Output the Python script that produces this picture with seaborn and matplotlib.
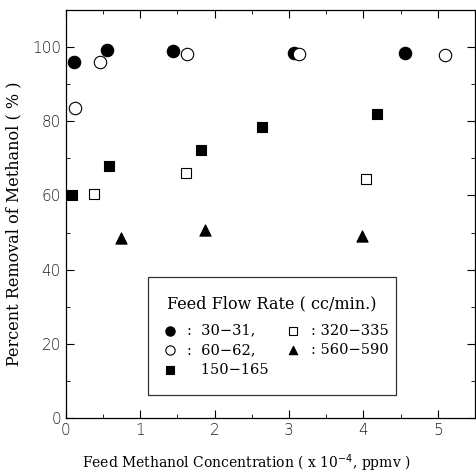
import numpy as np
import pandas as pd
import seaborn as sns
import matplotlib.pyplot as plt
from matplotlib.ticker import MultipleLocator
from matplotlib.offsetbox import DrawingArea

# Feed methanol concentration (x 10^-4 ppmv) and removal (%) per feed flow rate
x_30 = [0.11, 0.55, 1.44, 3.07, 4.56]
y_30 = [96.0, 99.2, 99.0, 98.5, 98.4]

x_60 = [0.12, 0.46, 1.63, 3.13, 5.09]
y_60 = [83.6, 96.0, 98.0, 98.0, 97.8]

x_150 = [0.08, 0.58, 1.81, 2.63, 4.18]
y_150 = [60.2, 68.0, 72.3, 78.5, 82.0]

x_320 = [0.38, 1.61, 4.04]
y_320 = [60.5, 66.0, 64.5]

x_560 = [0.74, 1.87, 3.98]
y_560 = [48.6, 50.7, 49.2]

labels = [":  30\u221231,", ":  60\u221262,", "   150\u2212165", ": 320\u2212335", ": 560\u2212590"]

sns.set_style("ticks")
plt.rcParams['font.family'] = ['DejaVu Serif']
plt.rcParams['text.color'] = 'black'
plt.rcParams['axes.labelcolor'] = 'black'

fig = plt.figure(figsize=(4.77, 4.75), dpi=100)
ax = fig.add_axes([0.138, 0.12, 0.858, 0.859])

series = [
    (x_30, y_30, "o", "black", labels[0], 80),
    (x_60, y_60, "o", "white", labels[1], 80),
    (x_150, y_150, "s", "black", labels[2], 55),
    (x_320, y_320, "s", "white", labels[3], 55),
    (x_560, y_560, "^", "black", labels[4], 65),
]
for xs, ys, m, fc, lab, s in series:
    df = pd.DataFrame({"x": xs, "y": ys})
    sns.scatterplot(data=df, x="x", y="y", marker=m, s=s, color=fc,
                    edgecolor="black", linewidth=0.8, label=lab, ax=ax, zorder=3)

ax.set_xlim(0, 5.5)
ax.set_ylim(0, 110)
ax.xaxis.set_major_locator(MultipleLocator(1))
ax.xaxis.set_minor_locator(MultipleLocator(0.5))
ax.yaxis.set_major_locator(MultipleLocator(20))
ax.yaxis.set_minor_locator(MultipleLocator(10))
ax.tick_params(which="both", direction="in", top=True, right=True, labelsize=11,
               color="black", labelcolor="#222222")
ax.tick_params(which="major", length=6)
ax.tick_params(which="minor", length=3)
for t in ax.get_xticklabels() + ax.get_yticklabels():
    t.set_family("DejaVu Sans")
    t.set_fontweight("light")
for sp in ax.spines.values():
    sp.set_linewidth(0.9)
    sp.set_color("black")

ax.set_xlabel("Feed Methanol Concentration ( x 10$^{-4}$, ppmv )", fontsize=10)
ax.set_ylabel("Percent Removal of Methanol ( % )", fontsize=11.5)
ax.xaxis.set_label_coords(0.44, -0.085)
ax.yaxis.set_label_coords(-0.105, 0.477)

leg = ax.legend(title="Feed Flow Rate ( cc/min.)", ncol=2, loc="lower left",
                bbox_to_anchor=(0.2, 0.056), borderaxespad=0, frameon=True,
                fancybox=False, edgecolor="black", fontsize=10.5,
                title_fontsize=11.5, handletextpad=0.2, columnspacing=0.7,
                labelspacing=0.38, borderpad=0.5, markerscale=0.75)
leg.get_frame().set_linewidth(0.9)
# extra space above the title and below the entries
box = leg._legend_box
box.sep = 8
box._children.insert(0, DrawingArea(0, 0))
box._children.append(DrawingArea(0, 0))

fig.savefig("out.png", dpi=100)
